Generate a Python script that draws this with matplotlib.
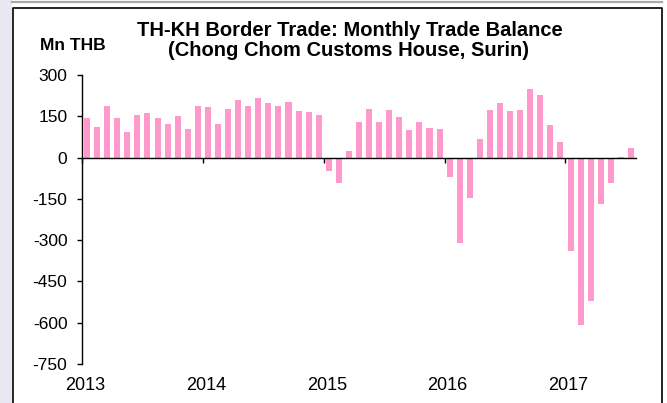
import matplotlib
matplotlib.use("Agg")
import matplotlib.pyplot as plt
import matplotlib.transforms as mtransforms
from matplotlib.patches import Rectangle
from matplotlib.lines import Line2D

plt.rcParams['font.family'] = ['Liberation Sans', 'DejaVu Sans']

# monthly trade balance, Mn THB (Jan 2013 - Jul 2017)
years = ["2013", "2014", "2015", "2016", "2017"]
bal_2013 = [142, 111, 186, 145, 94, 156, 162, 143, 121, 150, 102, 186]
bal_2014 = [184, 121, 177, 209, 189, 217, 199, 188, 202, 169, 165, 153]
bal_2015 = [-50, -94, 24, 131, 178, 131, 174, 148, 100, 130, 108, 104]
bal_2016 = [-71, -311, -146, 67, 173, 200, 171, 173, 249, 228, 120, 58]
bal_2017 = [-339, -610, -521, -167, -93, 3, 36]
y_ticks = [300, 150, 0, -150, -300, -450, -600, -750]

values = bal_2013 + bal_2014 + bal_2015 + bal_2016 + bal_2017
x = list(range(len(values)))

W, H = 667, 403
fig = plt.figure(figsize=(W / 100, H / 100), dpi=100)
fig.patch.set_facecolor("white")

# page frame bits
fig.patches.append(Rectangle((0, 0), 12 / W, 1, transform=fig.transFigure,
                             facecolor="#e8e8f2", edgecolor="none", zorder=0))
fig.lines.append(Line2D([12 / W, 662 / W], [1 - 1.5 / H, 1 - 1.5 / H],
                        transform=fig.transFigure, color="#a8a8a8", lw=1.6))
fig.lines.append(Line2D([12.5 / W, 12.5 / W, 662 / W, 662 / W],
                        [0, 1 - 8 / H, 1 - 8 / H, 0],
                        transform=fig.transFigure, color="black", lw=1.2))

ax = fig.add_axes([82 / W, 1 - 364 / H, 554 / W, 289 / H])
ax.set_facecolor("none")
ax.bar(x, values, width=0.6, color="#ff99cc", zorder=2)

ax.set_xlim(-0.5, len(values) - 0.5)
ax.set_ylim(-750, 300)
ax.set_yticks(y_ticks)
ax.set_yticklabels([str(v) for v in y_ticks])

ax.spines['top'].set_visible(False)
ax.spines['right'].set_visible(False)
ax.spines['bottom'].set_position(('data', 0))
ax.spines['bottom'].set_zorder(3)
for s in ['left', 'bottom']:
    ax.spines[s].set_linewidth(1.0)

bounds = [12 * i - 0.5 for i in range(len(years))]
ax.set_xticks(bounds)
ax.set_xticklabels([])
ax.tick_params(axis='x', direction='out', length=3.5, width=1.0)
ax.tick_params(axis='y', direction='out', length=3.5, width=1.0, pad=7,
               labelsize=12.5)

trans = mtransforms.blended_transform_factory(ax.transData, ax.transAxes)
for b, yr in zip(bounds, years):
    ax.text(b + 0.3, -0.073, yr, transform=trans, ha='center', va='center',
            fontsize=13)

fig.text(350 / W, 1 - 31 / H, "TH-KH Border Trade: Monthly Trade Balance",
         ha='center', va='center', fontsize=14.5, fontweight='bold')
fig.text(349 / W, 1 - 50 / H, "(Chong Chom Customs House, Surin)",
         ha='center', va='center', fontsize=14.5, fontweight='bold')
fig.text(40 / W, 1 - 45 / H, "Mn THB", ha='left', va='center',
         fontsize=12.5, fontweight='bold')

fig.savefig("out.png", dpi=100)
